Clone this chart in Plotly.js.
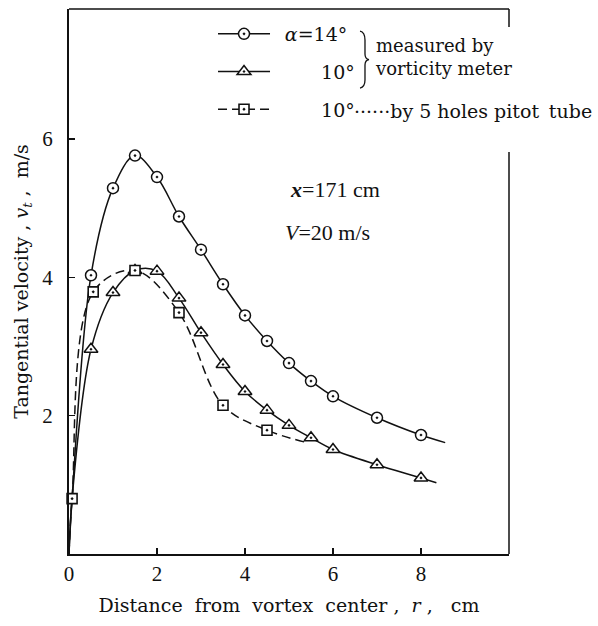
<!DOCTYPE html>
<html><head><meta charset="utf-8">
<script src="https://cdn.plot.ly/plotly-3.0.1.min.js"></script>
<style>html,body{margin:0;padding:0;background:#fff}#chart{width:598px;height:626px}</style>
</head><body><div id="chart"></div>
<script>
// ---- data ----
const r14 = [0.5,1.0,1.5,2.0,2.5,3.0,3.5,4.0,4.5,5.0,5.5,6.0,7.0,8.0];
const v14 = [4.03,5.29,5.76,5.45,4.88,4.40,3.90,3.45,3.08,2.76,2.50,2.28,1.97,1.72];
const r10 = [0.5,1.0,1.5,2.0,2.5,3.0,3.5,4.0,4.5,5.0,5.5,6.0,7.0,8.0];
const v10 = [2.96,3.78,4.10,4.09,3.70,3.20,2.74,2.35,2.08,1.86,1.68,1.51,1.29,1.10];
const rPitot = [0.07,0.55,1.5,2.5,3.5,4.5];
const vPitot = [0.80,3.79,4.10,3.49,2.15,1.79];
// faired curves: origin and tail ends
const originR = [0], originV = [0];
const tail14R = [8.55], tail14V = [1.61];
const tail10R = [8.35], tail10V = [1.03];
const tailPR = [5.35], tailPV = [1.62];
const xTicks = [0,2,4,6,8];
const yTicks = [2,4,6];

const INK = '#111';
const SERIF = 'DejaVu Serif, serif';
const TIMES = 'Liberation Serif, Times New Roman, serif';
const NB = '\u00a0';
const sp = n => NB.repeat(n);
const LEAD = NB + '\u2009';

const c14x = originR.concat(rPitot.slice(0,1), r14, tail14R);
const c14y = originV.concat(vPitot.slice(0,1), v14, tail14V);
const c10x = originR.concat(rPitot.slice(0,1), r10, tail10R);
const c10y = originV.concat(vPitot.slice(0,1), v10, tail10V);
const cPx = originR.concat(rPitot, tailPR);
const cPy = originV.concat(vPitot, tailPV);

const lineW = 1.5;
const traces = [
  {x:c14x, y:c14y, mode:'lines', line:{shape:'spline', smoothing:1, color:INK, width:lineW}, showlegend:false, hoverinfo:'skip'},
  {x:c10x, y:c10y, mode:'lines', line:{shape:'spline', smoothing:1, color:INK, width:lineW}, showlegend:false, hoverinfo:'skip'},
  {x:cPx, y:cPy, mode:'lines', line:{shape:'spline', smoothing:1, color:INK, width:lineW, dash:'9px,5px'}, showlegend:false, hoverinfo:'skip'},
  {x:r14, y:v14, mode:'markers', cliponaxis:false, marker:{symbol:'circle-dot', size:11, color:'#fff', line:{color:INK, width:1.5}}, showlegend:false},
  {x:r10, y:v10, mode:'markers', cliponaxis:false, marker:{symbol:'triangle-up-dot', size:12, color:'#fff', line:{color:INK, width:1.5}}, showlegend:false},
  {x:rPitot, y:vPitot, mode:'markers', cliponaxis:false, marker:{symbol:'square-dot', size:10, color:'#fff', line:{color:INK, width:1.6}}, showlegend:false},
  // legend entries
  {x:[null], y:[null], mode:'lines+markers', name:LEAD+'<i>α</i>=14°', legendgroup:'a',
   line:{color:INK, width:lineW}, marker:{symbol:'circle-dot', size:11, color:'#fff', line:{color:INK, width:1.5}}},
  {x:[null], y:[null], mode:'lines+markers', name:LEAD+sp(6)+'10°', legendgroup:'b',
   line:{color:INK, width:lineW}, marker:{symbol:'triangle-up-dot', size:12, color:'#fff', line:{color:INK, width:1.5}}},
  {x:[null], y:[null], mode:'lines+markers', name:LEAD+sp(6)+'10°', legendgroup:'c',
   line:{color:INK, width:lineW, dash:'9px,5px'}, marker:{symbol:'square-dot', size:10, color:'#fff', line:{color:INK, width:1.6}}}
];

// plot area in pixels: x 69..509, y 9..554
const W=598, H=626;
const L=69, R=509, T=9, B=554;
const px = X => +((X-L)/(R-L)).toFixed(4);
const py = Y => +((B-Y)/(B-T)).toFixed(4);
const P = (X,Y) => px(X)+','+py(Y);
const brace = 'M'+P(360,31)+' Q'+P(365,32)+' '+P(365,40)+' L'+P(365,54)+' Q'+P(365,59)+' '+P(369,59.5)+
  ' Q'+P(365,60)+' '+P(365,65)+' L'+P(365,80)+' Q'+P(365,87)+' '+P(360,88);

const layout = {
  width:W, height:H,
  margin:{l:L, r:W-R, t:T, b:H-B, pad:0},
  paper_bgcolor:'#fff', plot_bgcolor:'#fff',
  font:{family:SERIF, size:19, color:INK},
  showlegend:true,
  legend:{x:px(213), y:py(15), xanchor:'left', yanchor:'top', bgcolor:'rgba(0,0,0,0)',
    font:{family:SERIF, size:19, color:INK}, traceorder:'grouped', tracegroupgap:10, itemwidth:52},
  xaxis:{range:[0,10], tickvals:xTicks, ticktext:xTicks.map(String), ticks:'inside', ticklen:6, tickwidth:1.2, tickcolor:INK,
    showline:true, linecolor:INK, linewidth:1.6, showgrid:false, zeroline:false, ticklabelstandoff:0,
    tickfont:{family:TIMES, size:21, color:INK},
    title:{text:'Distance'+sp(2)+'from'+sp(2)+'vortex'+sp(2)+'center'+sp(1)+','+sp(2)+'<i>r</i>'+sp(1)+','+sp(3)+'cm', font:{family:SERIF, size:19, color:INK}, standoff:14}},
  yaxis:{range:[0,7.88], tickvals:yTicks, ticktext:yTicks.map(String), ticks:'inside', ticklen:6, tickwidth:1.2, tickcolor:INK,
    showline:true, linecolor:INK, linewidth:2, showgrid:false, zeroline:false, ticklabelstandoff:10,
    tickfont:{family:TIMES, size:21, color:INK},
    title:{text:'Tangential'+sp(1)+'velocity'+sp(1)+','+sp(1)+'<i>v<sub>t</sub></i>'+sp(1)+','+sp(2)+'m/s', font:{family:SERIF, size:19, color:INK}, standoff:9}},
  shapes:[
    {type:'line', xref:'paper', yref:'paper', x0:0, x1:1, y0:1, y1:1, line:{color:INK, width:1.5}},
    {type:'line', xref:'paper', yref:'paper', x0:1, x1:1, y0:1, y1:py(27), line:{color:INK, width:1.5}},
    {type:'line', xref:'paper', yref:'paper', x0:1, x1:1, y0:py(152), y1:0, line:{color:INK, width:1.5}},
    {type:'path', xref:'paper', yref:'paper', path:brace, line:{color:INK, width:1.3}}
  ],
  annotations:[
    {xref:'paper', yref:'paper', x:px(373), y:py(57), xanchor:'left', yanchor:'middle', align:'left', showarrow:false,
     text:'measured'+sp(1)+'by<br>vorticity'+sp(1)+'meter', font:{family:SERIF, size:18, color:INK}},
    {xref:'paper', yref:'paper', x:px(352), y:py(111), xanchor:'left', yanchor:'middle', showarrow:false,
     text:'······by'+sp(1)+'5'+sp(1)+'holes'+sp(1)+'pitot'+sp(1)+'\u2009tube', font:{family:SERIF, size:19, color:INK}},
    {xref:'paper', yref:'paper', x:px(288), y:py(190), xanchor:'left', yanchor:'middle', showarrow:false,
     text:'<b><i>x</i></b>=171'+sp(1)+'cm', font:{family:TIMES, size:22, color:INK}},
    {xref:'paper', yref:'paper', x:px(283), y:py(232), xanchor:'left', yanchor:'middle', showarrow:false,
     text:'<i>V</i>=20'+sp(1)+'m/s', font:{family:TIMES, size:22, color:INK}}
  ]
};

Plotly.newPlot('chart', traces, layout, {displayModeBar:false, staticPlot:true});
</script>
</body></html>
